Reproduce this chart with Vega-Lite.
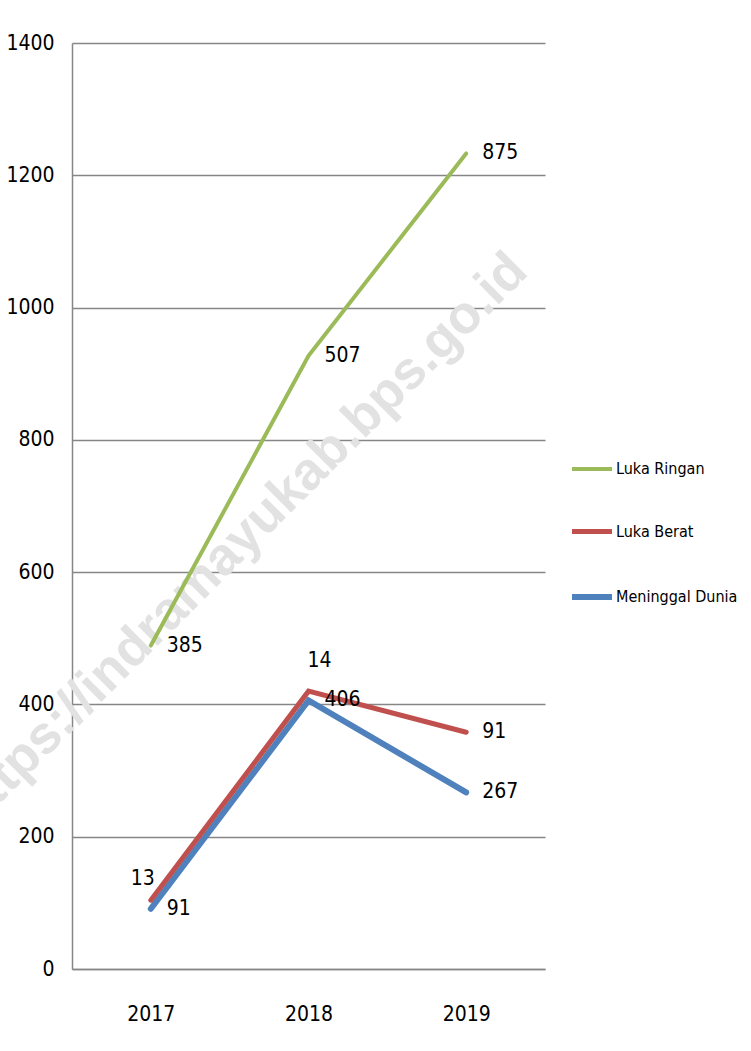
{
  "$schema": "https://vega.github.io/schema/vega-lite/v6.json",
  "width": 473,
  "height": 926,
  "autosize": {"type": "none"},
  "padding": {"left": 72, "top": 43, "right": 206, "bottom": 82},
  "background": "white",
  "config": {
    "view": {"stroke": null},
    "font": "'DejaVu Sans Condensed', 'Liberation Sans Narrow', 'Liberation Sans', sans-serif",
    "axis": {"labelFont": "'DejaVu Sans Condensed', 'Liberation Sans Narrow', 'Liberation Sans', sans-serif", "labelFontSize": 21, "labelColor": "#000000"},
    "legend": {"labelFont": "'DejaVu Sans Condensed', 'Liberation Sans Narrow', 'Liberation Sans', sans-serif", "labelColor": "#000000"}
  },
  "datasets": {
    "acc": [
      {"year": "2017", "series": "Meninggal Dunia", "rank": 1, "value": 91},
      {"year": "2018", "series": "Meninggal Dunia", "rank": 1, "value": 406},
      {"year": "2019", "series": "Meninggal Dunia", "rank": 1, "value": 267},
      {"year": "2017", "series": "Luka Berat", "rank": 2, "value": 13},
      {"year": "2018", "series": "Luka Berat", "rank": 2, "value": 14},
      {"year": "2019", "series": "Luka Berat", "rank": 2, "value": 91},
      {"year": "2017", "series": "Luka Ringan", "rank": 3, "value": 385},
      {"year": "2018", "series": "Luka Ringan", "rank": 3, "value": 507},
      {"year": "2019", "series": "Luka Ringan", "rank": 3, "value": 875}
    ]
  },
  "layer": [
    {
      "data": {"values": [{"year": "2018", "pos": 751, "label": "https://indramayukab.bps.go.id"}]},
      "mark": {"type": "text", "angle": -45, "font": "Liberation Sans", "fontWeight": "bold", "fontSize": 53, "color": "#e2e2e2", "align": "center", "baseline": "middle", "dx": -96},
      "encoding": {
        "x": {"field": "year", "type": "ordinal", "scale": {"type": "point", "padding": 0.5}, "axis": {"title": null, "labelAngle": 0, "ticks": false, "domain": true, "domainColor": "#868686", "domainWidth": 1.5, "labelPadding": 34, "grid": false}},
        "y": {"field": "pos", "type": "quantitative", "scale": {"domain": [0, 1400], "nice": false}, "axis": {"title": null, "format": "d", "values": [0, 200, 400, 600, 800, 1000, 1200, 1400], "grid": true, "gridColor": "#868686", "gridWidth": 1.5, "domainColor": "#868686", "domainWidth": 1.5, "ticks": false, "labelPadding": 18}},
        "text": {"field": "label"}
      }
    },
    {
      "data": {"name": "acc"},
      "transform": [{"stack": "value", "groupby": ["year"], "sort": [{"field": "rank"}], "as": ["y0", "y1"]}],
      "mark": {"type": "line", "strokeCap": "round", "strokeJoin": "miter"},
      "encoding": {
        "x": {"field": "year", "type": "ordinal"},
        "y": {"field": "y1", "type": "quantitative"},
        "color": {"field": "series", "type": "nominal", "scale": {"domain": ["Luka Ringan", "Luka Berat", "Meninggal Dunia"], "range": ["#9BBB59", "#C0504D", "#4F81BD"]},
          "legend": {"title": null, "orient": "none", "legendX": 497, "legendY": 404, "symbolType": "stroke", "symbolSize": 1600, "symbolStrokeWidth": 6, "labelFontSize": 16, "labelOffset": 1, "rowPadding": 32}},
        "strokeWidth": {"field": "series", "type": "nominal", "scale": {"domain": ["Luka Ringan", "Luka Berat", "Meninggal Dunia"], "range": [4, 6, 6]}, "legend": null}
      }
    },
    {
      "data": {"name": "acc"},
      "transform": [
        {"stack": "value", "groupby": ["year"], "sort": [{"field": "rank"}], "as": ["y0", "y1"]},
        {"filter": "!(datum.series === 'Luka Berat' && datum.year !== '2019')"}
      ],
      "mark": {"type": "text", "align": "left", "baseline": "middle", "dx": 16, "fontSize": 21, "color": "#000000"},
      "encoding": {
        "x": {"field": "year", "type": "ordinal"},
        "y": {"field": "y1", "type": "quantitative"},
        "text": {"field": "value", "type": "quantitative"}
      }
    },
    {
      "data": {"name": "acc"},
      "transform": [
        {"stack": "value", "groupby": ["year"], "sort": [{"field": "rank"}], "as": ["y0", "y1"]},
        {"filter": "datum.series === 'Luka Berat' && datum.year === '2017'"}
      ],
      "mark": {"type": "text", "align": "center", "baseline": "middle", "dx": -8, "dy": -21, "fontSize": 21, "color": "#000000"},
      "encoding": {
        "x": {"field": "year", "type": "ordinal"},
        "y": {"field": "y1", "type": "quantitative"},
        "text": {"field": "value", "type": "quantitative"}
      }
    },
    {
      "data": {"name": "acc"},
      "transform": [
        {"stack": "value", "groupby": ["year"], "sort": [{"field": "rank"}], "as": ["y0", "y1"]},
        {"filter": "datum.series === 'Luka Berat' && datum.year === '2018'"}
      ],
      "mark": {"type": "text", "align": "center", "baseline": "middle", "dx": 11, "dy": -30, "fontSize": 21, "color": "#000000"},
      "encoding": {
        "x": {"field": "year", "type": "ordinal"},
        "y": {"field": "y1", "type": "quantitative"},
        "text": {"field": "value", "type": "quantitative"}
      }
    }
  ]
}
